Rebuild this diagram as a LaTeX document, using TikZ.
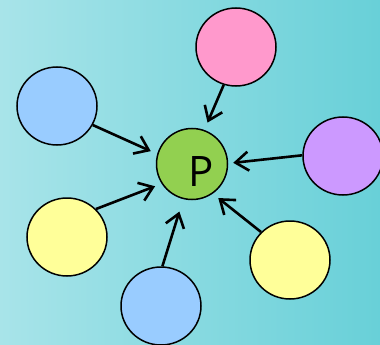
\documentclass[tikz,border=0pt]{standalone}
\usepackage{fontspec}
\setmainfont{Open Sans}
\usetikzlibrary{arrows.meta,shapes.geometric}
\definecolor{bgL}{HTML}{A8E4E9}
\definecolor{bgR}{HTML}{68D0D8}
\definecolor{cgreen}{HTML}{92D050}
\definecolor{cpink}{HTML}{FF99CC}
\definecolor{cblue}{HTML}{99CCFF}
\definecolor{cpurple}{HTML}{CC99FF}
\definecolor{cyellow}{HTML}{FFFF99}
\tikzset{
  blob/.style={ellipse,draw=black,line width=1.5pt,minimum width=80pt,minimum height=78pt,inner sep=0pt},
  hub/.style={circle,draw=black,line width=1.5pt,minimum size=71pt,inner sep=0pt,fill=cgreen},
  arr/.style={line width=2.6pt,-{Straight Barb[length=13pt,width=19pt]}}
}
\begin{document}
\begin{tikzpicture}[x=1pt,y=-1pt]
\shade[left color=bgL,right color=bgR] (0,0) rectangle (380,345);
\useasboundingbox (0,0) rectangle (380,345);
\node[hub,label={[font=\fontsize{42}{42}\selectfont,xshift=9pt,yshift=-8pt]center:P}] (p) at (192,164) {};
\node[blob,fill=cpink] (pink) at (236,47) {};
\node[blob,fill=cblue] (bl1) at (57,106) {};
\node[blob,fill=cpurple] (pur) at (343,156) {};
\node[blob,fill=cyellow] (ye1) at (67,237) {};
\node[blob,fill=cblue] (bl2) at (161,306) {};
\node[blob,fill=cyellow] (ye2) at (290,260) {};
\draw[arr,shorten >=8pt] (pink.-108) -- (p.70);
\draw[arr,shorten >=7pt] (bl1.-28) -- (p.164);
\draw[arr,shorten >=5pt] (pur.179) -- (p.1);
\draw[arr,shorten >=7pt] (ye1.44) -- (p.-147);
\draw[arr,shorten >=13pt] (bl2.88) -- (p.-104);
\draw[arr,shorten >=7pt] (ye2.136) -- (p.-55);
\end{tikzpicture}
\end{document}
